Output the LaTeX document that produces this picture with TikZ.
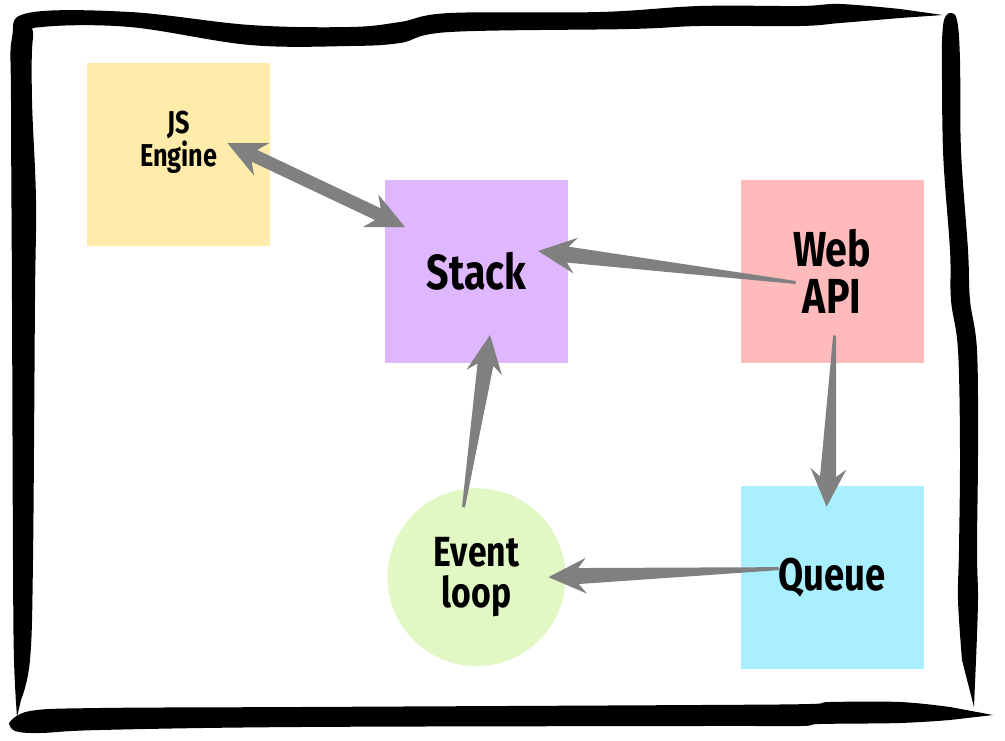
\documentclass[tikz,border=0pt]{standalone}
\usepackage{fontspec}
\newfontfamily\handfont{Fira Sans}[FakeStretch=0.8]
\usepackage{tikz}
\usetikzlibrary{positioning,calc}

\definecolor{JSYellow}{RGB}{255,236,170}
\definecolor{StackLilac}{RGB}{223,183,255}
\definecolor{WebPink}{RGB}{255,187,187}
\definecolor{QueueCyan}{RGB}{170,239,255}
\definecolor{LoopGreen}{RGB}{226,248,196}
\definecolor{ArrowGray}{RGB}{128,128,128}

% tapered arrow: from, to, tail half width, shaft half width
\newcommand{\taperarrow}[4]{%
	\coordinate (neck) at ($(#2)!0.6cm!(#1)$);
	\coordinate (barb) at ($(#2)!0.76cm!(#1)$);
	\fill[ArrowGray] ($(#1)!#3!90:(#2)$) -- ($(neck)!#4!90:(#2)$)
		-- ($(barb)!0.36cm!90:(#2)$) -- (#2) -- ($(barb)!0.36cm!-90:(#2)$)
		-- ($(neck)!#4!-90:(#2)$) -- ($(#1)!#3!-90:(#2)$) -- cycle;
}

\begin{document}
\begin{tikzpicture}[
		x=0.02cm, y=-0.02cm,
		every text node part/.style={align=center},
		box/.style={rectangle, draw=none, minimum size=3.66cm, inner sep=0pt},
		loopbox/.style={circle, draw=none, minimum size=3.56cm, inner sep=0pt},
		hand/.style 2 args={font=\handfont\bfseries\fontsize{#1}{#2}\selectfont}
	]
	\useasboundingbox (0,0) rectangle (1005,741);

	% hand drawn frame
	\fill[black] plot[smooth, tension=0.6] coordinates {(17,717) (14,660) (13,560) (12,300) (11,100) (12,38) (28,13) (130,12) (250,25) (350,27) (400,22) (450,13) (600,12) (700,6) (800,6) (840,4) (900,9)} -- (943,15)
		-- plot[smooth, tension=0.6] coordinates {(900,18) (840,23) (800,26) (700,26) (630,29) (450,32) (400,43) (350,46) (250,45) (130,27) (42,27) (33,38) (32,100) (36,200) (35,300) (33,560) (30,660) (21,700)} -- cycle;
	\fill[black] plot[smooth, tension=0.6] coordinates {(942,40) (944,20) (950,13) (957,20) (960,60) (961,150) (968,250) (970,300) (977,350) (978,450) (977,550) (978,600) (976,660)} -- (974,707)
		-- plot[smooth, tension=0.6] coordinates {(962,660) (958,600) (959,550) (960,450) (958,350) (951,300) (950,250) (943,150) (942,40)} -- cycle;
	\fill[black] plot[smooth, tension=0.6] coordinates {(9,723) (30,711) (100,708) (300,707) (700,705) (810,704) (830,702) (900,702) (950,707)} -- (993,715)
		-- plot[smooth, tension=0.6] coordinates {(950,720) (900,723) (820,724) (800,726) (700,726) (300,727) (100,730) (40,733) (15,731) (9,723)} -- cycle;

	% components
	\node(stack)[box, fill=StackLilac, hand={28}{30}] at (476.5,271.5) {Stack};
	\node(engine)[box, fill=JSYellow, hand={18}{19}, left=2.28cm of stack, yshift=2.34cm, text depth=0.62cm] {JS\\ Engine};
	\node(web)[box, fill=WebPink, hand={28}{27}, right=3.44cm of stack] {Web\\ API};
	\node(queue)[box, fill=QueueCyan, hand={26}{28}, below=2.44cm of web] {Queue};
	\node(loop)[loopbox, fill=LoopGreen, hand={24}{23}] at (stack |- queue) {Event\\ loop};

	% arrow ends
	\coordinate (enginein) at ([shift={(48.5,-11.5)}]engine.center);
	\coordinate (stackfromengine) at ([shift={(-71.5,-44.5)}]stack.center);
	\coordinate (enginemid) at ($(enginein)!0.5!(stackfromengine)$);
	\coordinate (webout) at ([shift={(-36.5,11)}]web.center);
	\coordinate (stackfromweb) at ([shift={(61.5,-20.5)}]stack.center);
	\coordinate (loopout) at ([shift={(-13,-70)}]loop.center);
	\coordinate (stackfromloop) at ([shift={(13.5,63.5)}]stack.center);
	\coordinate (webdown) at ([shift={(2.5,64)}]web.center);
	\coordinate (queuein) at ([shift={(-5.5,-70.5)}]queue.center);
	\coordinate (queueout) at ([shift={(-53.5,-8.5)}]queue.center);
	\coordinate (loopin) at ([shift={(72,0)}]loop.center);

	\taperarrow{enginemid}{enginein}{0.13cm}{0.13cm}
	\taperarrow{enginemid}{stackfromengine}{0.13cm}{0.13cm}
	\taperarrow{webout}{stackfromweb}{0.03cm}{0.16cm}
	\taperarrow{loopout}{stackfromloop}{0.03cm}{0.16cm}
	\taperarrow{webdown}{queuein}{0.03cm}{0.16cm}
	\taperarrow{queueout}{loopin}{0.03cm}{0.16cm}

\end{tikzpicture}
\end{document}
